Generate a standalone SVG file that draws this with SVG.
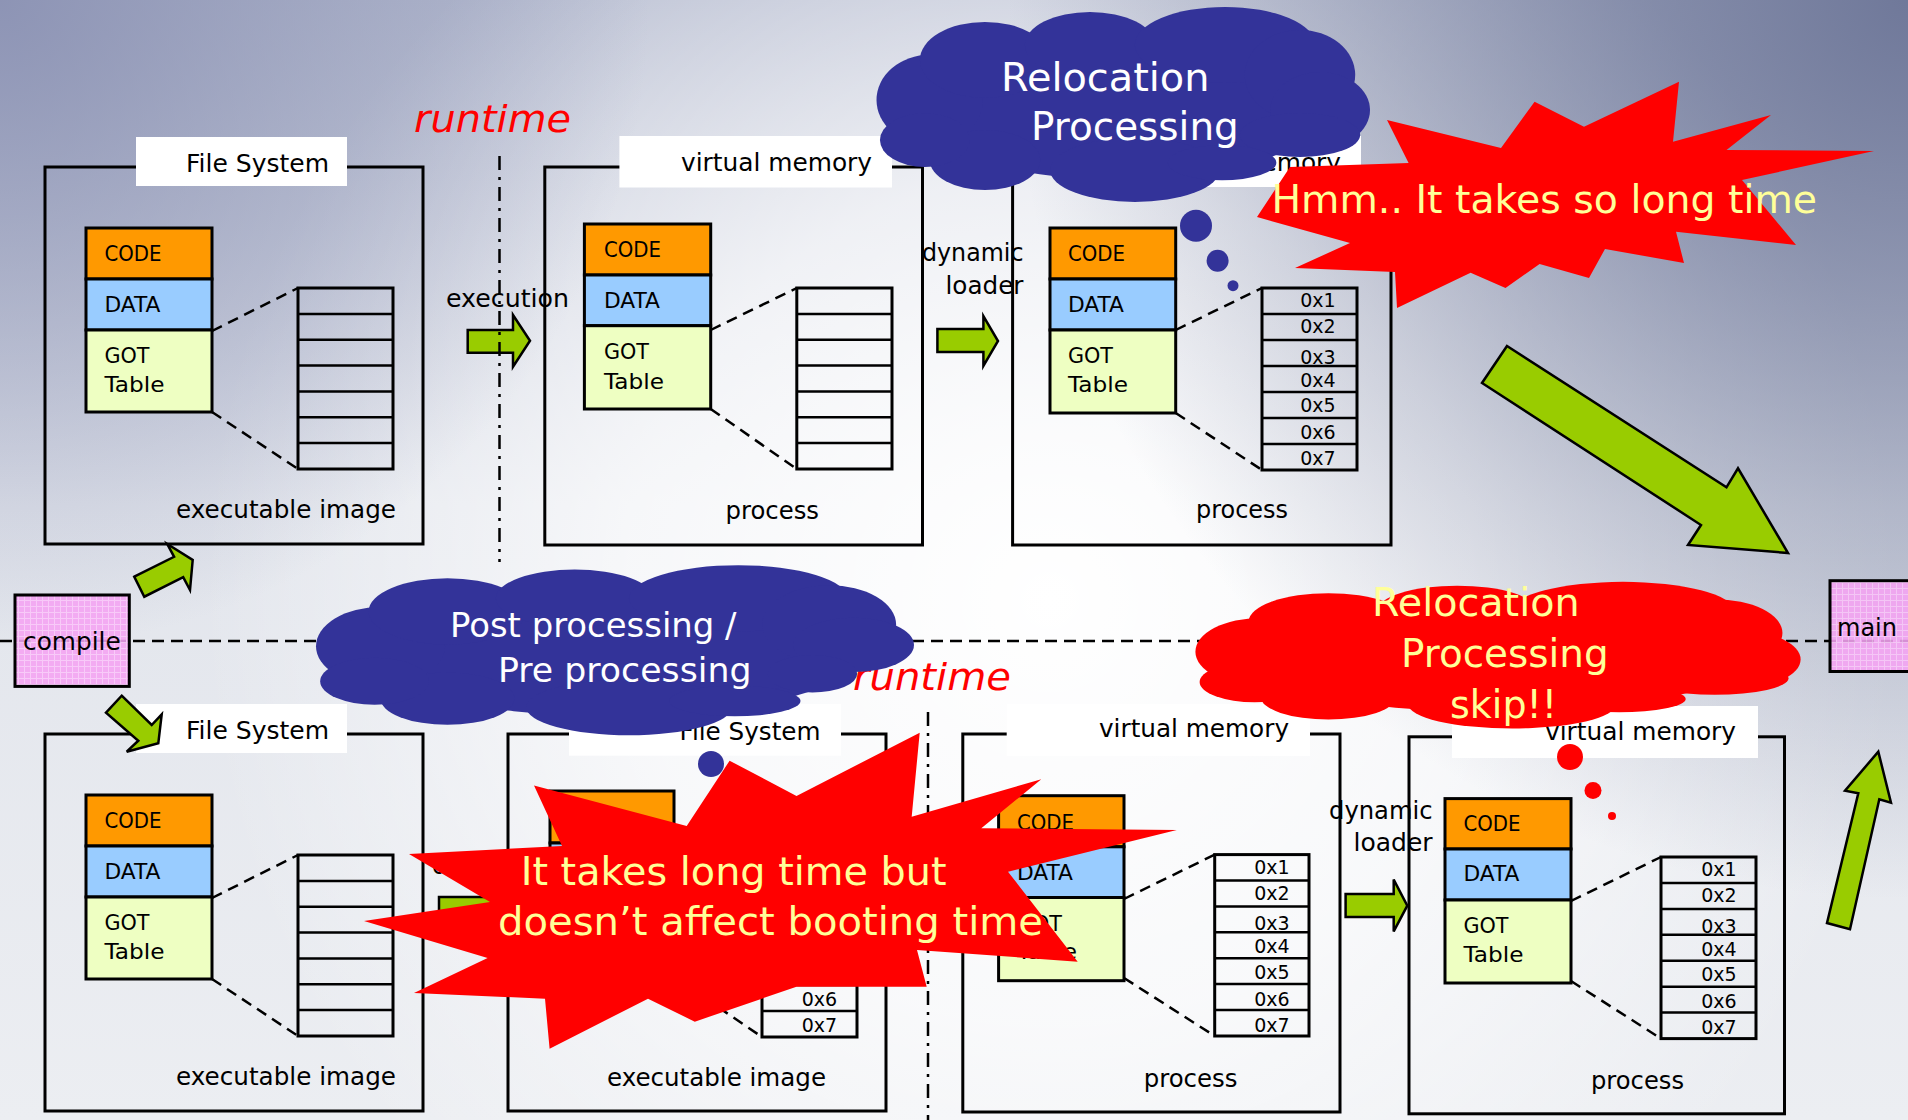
<svg xmlns="http://www.w3.org/2000/svg" xmlns:xlink="http://www.w3.org/1999/xlink" width="1908" height="1120" viewBox="0 0 1908 1120">
<defs>
<style>
.box{fill:none;stroke:#000;stroke-width:3}
.lab{fill:#fff}
.code{fill:#ff9900;stroke:#000;stroke-width:3}
.data{fill:#99ccff;stroke:#000;stroke-width:3}
.got{fill:#eeffc2;stroke:#000;stroke-width:3}
.tbl{fill:none;stroke:#000;stroke-width:3}
.rows{fill:none;stroke:#000;stroke-width:2.5}
.dash{fill:none;stroke:#000;stroke-width:2.5;stroke-dasharray:11 7}
.arrow{fill:#99cc00;stroke:#000;stroke-width:2.5}
.hline{fill:none;stroke:#000;stroke-width:2.5;stroke-dasharray:12 7}
.vline{fill:none;stroke:#000;stroke-width:2.5;stroke-dasharray:14 7 3 7}
.pink{fill:url(#pinkPat);fill-opacity:0.88;stroke:#000;stroke-width:3}
.t{font-family:"DejaVu Sans","Liberation Sans",sans-serif;fill:#000}
.lbl{font-size:25px}
.seg{font-size:22px}
.cap{font-size:24.5px}
.addr{font-size:19px;text-anchor:middle}
.rt{font-size:38px;font-style:italic;fill:#ff0000}
.cw{font-size:39px;fill:#fff}
.cy{font-size:39px;fill:#ffff99}
.bubB{fill:#333399}
.bubR{fill:#ff0000}
.star{fill:#ff0000}
</style>
<linearGradient id="bgLin" x1="0" y1="0" x2="0" y2="1">
<stop offset="0" stop-color="#b6bcd0"/>
<stop offset="0.45" stop-color="#e2e5ec"/>
<stop offset="1" stop-color="#eceef2"/>
</linearGradient>
<radialGradient id="bgGlow" gradientUnits="userSpaceOnUse" cx="1050" cy="600" r="850">
<stop offset="0" stop-color="#ffffff" stop-opacity="1"/>
<stop offset="0.5" stop-color="#ffffff" stop-opacity="0.7"/>
<stop offset="1" stop-color="#ffffff" stop-opacity="0"/>
</radialGradient>
<radialGradient id="bgTR" gradientUnits="userSpaceOnUse" cx="1908" cy="0" r="900">
<stop offset="0" stop-color="#6c7597" stop-opacity="0.95"/>
<stop offset="1" stop-color="#6c7597" stop-opacity="0"/>
</radialGradient>
<radialGradient id="bgTL" gradientUnits="userSpaceOnUse" cx="0" cy="0" r="650">
<stop offset="0" stop-color="#868db0" stop-opacity="0.85"/>
<stop offset="1" stop-color="#868db0" stop-opacity="0"/>
</radialGradient>
<pattern id="pinkPat" width="6" height="6" patternUnits="userSpaceOnUse">
<rect width="6" height="6" fill="#f5a3f3"/>
<path d="M0 0.5H6M0.5 0V6" stroke="#fbc6fa" stroke-width="1"/>
</pattern>
<g id="cloudCore">
<ellipse cx="493" cy="504" rx="426" ry="385"/>
<ellipse cx="107" cy="478" rx="108" ry="231"/>
<ellipse cx="219" cy="273" rx="132" ry="195"/>
<ellipse cx="432" cy="196" rx="132" ry="169"/>
<ellipse cx="706" cy="196" rx="183" ry="195"/>
<ellipse cx="858" cy="350" rx="112" ry="231"/>
<ellipse cx="523" cy="837" rx="172" ry="164"/>
<ellipse cx="219" cy="786" rx="112" ry="154"/>
<ellipse cx="97" cy="684" rx="91" ry="138"/>
</g>
<g id="cloud">
<use href="#cloudCore"/>
<ellipse cx="899" cy="530" rx="101" ry="195"/>
<ellipse cx="858" cy="658" rx="122" ry="113"/>
<ellipse cx="700" cy="800" rx="110" ry="90"/>
</g>
<g id="cloudB">
<use href="#cloudCore"/>
<ellipse cx="899" cy="470" rx="101" ry="160"/>
<ellipse cx="830" cy="640" rx="75" ry="110"/>
<ellipse cx="700" cy="800" rx="110" ry="90"/>
</g>
<g id="fsbox">
<rect class="box" x="45" y="167" width="378" height="377"/>
<rect class="lab" x="136" y="137" width="211" height="49"/>
<text class="t lbl" x="186" y="172">File System</text>
<rect class="code" x="86" y="228" width="126" height="51"/>
<rect class="data" x="86" y="279" width="126" height="51"/>
<rect class="got" x="86" y="330" width="126" height="82"/>
<text class="t seg" x="104.5" y="261" textLength="57" lengthAdjust="spacingAndGlyphs">CODE</text>
<text class="t seg" x="104.5" y="312" textLength="56" lengthAdjust="spacingAndGlyphs">DATA</text>
<text class="t seg" x="104.5" y="363" textLength="45" lengthAdjust="spacingAndGlyphs">GOT</text>
<text class="t seg" x="104.5" y="392" textLength="60" lengthAdjust="spacingAndGlyphs">Table</text>
<rect class="tbl" x="298" y="288" width="95" height="181"/>
<path class="rows" d="M298 313.9H393M298 339.7H393M298 365.6H393M298 391.4H393M298 417.3H393M298 443.1H393"/>
<path class="dash" d="M212 331L298 288M212 412L298 469"/>
<text class="t cap" x="176" y="518" textLength="220" lengthAdjust="spacingAndGlyphs">executable image</text>
</g>
</defs>

<g id="background">
<rect width="1908" height="1120" fill="url(#bgLin)"/>
<rect width="1908" height="1120" fill="url(#bgGlow)"/>
<rect width="1908" height="1120" fill="url(#bgTR)"/>
<rect width="1908" height="1120" fill="url(#bgTL)"/>
</g>

<g id="labels-runtime">
<text class="t rt" x="414" y="132" textLength="157" lengthAdjust="spacingAndGlyphs">runtime</text>
<text class="t rt" x="853" y="690" textLength="158" lengthAdjust="spacingAndGlyphs">runtime</text>
</g>

<g id="node-fs-top"><use href="#fsbox"/></g>

<g id="node-vm-top1">
<rect class="box" x="544.8" y="167" width="377.7" height="378"/>
<rect class="lab" x="619.4" y="136" width="272.6" height="51.5"/>
<text class="t lbl" x="681" y="171.4" textLength="191" lengthAdjust="spacingAndGlyphs">virtual memory</text>
<rect class="code" x="584.4" y="224" width="126.3" height="51"/>
<rect class="data" x="584.4" y="275" width="126.3" height="50.7"/>
<rect class="got" x="584.4" y="325.7" width="126.3" height="83.3"/>
<text class="t seg" x="604" y="257" textLength="57" lengthAdjust="spacingAndGlyphs">CODE</text>
<text class="t seg" x="604" y="308" textLength="56" lengthAdjust="spacingAndGlyphs">DATA</text>
<text class="t seg" x="604" y="359" textLength="45" lengthAdjust="spacingAndGlyphs">GOT</text>
<text class="t seg" x="604" y="388.6" textLength="60" lengthAdjust="spacingAndGlyphs">Table</text>
<rect class="tbl" x="796.8" y="288" width="95.2" height="181"/>
<path class="rows" d="M796.8 313.9H892M796.8 339.7H892M796.8 365.6H892M796.8 391.4H892M796.8 417.3H892M796.8 443.1H892"/>
<path class="dash" d="M710.7 330L796.8 288M710.7 409L796.8 469"/>
<text class="t cap" x="725.6" y="518.6" textLength="93.4" lengthAdjust="spacingAndGlyphs">process</text>
</g>

<g id="node-vm-top2">
<rect class="box" x="1012.6" y="167" width="378.4" height="378"/>
<rect class="lab" x="1088" y="136" width="273" height="51"/>
<text class="t lbl" x="1150" y="171" textLength="191" lengthAdjust="spacingAndGlyphs">virtual memory</text>
<rect class="code" x="1050" y="228" width="125.7" height="51"/>
<rect class="data" x="1050" y="279" width="125.7" height="51"/>
<rect class="got" x="1050" y="330" width="125.7" height="83"/>
<text class="t seg" x="1068" y="260.7" textLength="57" lengthAdjust="spacingAndGlyphs">CODE</text>
<text class="t seg" x="1068" y="312" textLength="56" lengthAdjust="spacingAndGlyphs">DATA</text>
<text class="t seg" x="1068" y="363" textLength="45" lengthAdjust="spacingAndGlyphs">GOT</text>
<text class="t seg" x="1068" y="392" textLength="60" lengthAdjust="spacingAndGlyphs">Table</text>
<rect class="tbl" x="1262" y="288" width="95" height="182"/>
<path class="rows" d="M1262 314H1357M1262 340H1357M1262 366H1357M1262 392H1357M1262 418H1357M1262 444H1357"/>
<text class="t addr" x="1318" y="307">0x1</text>
<text class="t addr" x="1318" y="333">0x2</text>
<text class="t addr" x="1318" y="363.5">0x3</text>
<text class="t addr" x="1318" y="386.5">0x4</text>
<text class="t addr" x="1318" y="412">0x5</text>
<text class="t addr" x="1318" y="439">0x6</text>
<text class="t addr" x="1318" y="465">0x7</text>
<path class="dash" d="M1175.7 330L1262 288M1175.7 413L1262 470"/>
<text class="t cap" x="1196" y="518" textLength="92" lengthAdjust="spacingAndGlyphs">process</text>
</g>

<g id="node-fs-bottom1" transform="translate(0 567)"><use href="#fsbox"/></g>

<g id="node-fs-bottom2">
<rect class="box" x="508" y="734" width="378" height="377"/>
<rect class="lab" x="569" y="704" width="272" height="51.7"/>
<text class="t lbl" x="679.5" y="740" textLength="141" lengthAdjust="spacingAndGlyphs">File System</text>
<rect class="code" x="550" y="791" width="124" height="52"/>
<rect class="data" x="550" y="843" width="124" height="51"/>
<rect class="got" x="550" y="894" width="124" height="83"/>
<rect class="tbl" x="762" y="855" width="95" height="182"/>
<path class="rows" d="M762 881H857M762 907H857M762 933H857M762 959H857M762 985H857M762 1011H857"/>
<text class="t addr" x="819.5" y="979">0x5</text>
<text class="t addr" x="819.5" y="1006">0x6</text>
<text class="t addr" x="819.5" y="1032">0x7</text>
<path class="dash" d="M674 894L762 855M674 977L762 1037"/>
<text class="t cap" x="607" y="1086" textLength="219" lengthAdjust="spacingAndGlyphs">executable image</text>
</g>

<g id="node-vm-bottom1">
<rect class="box" x="962.8" y="734" width="377.2" height="378"/>
<rect class="lab" x="1006.7" y="704" width="303.3" height="52"/>
<text class="t lbl" x="1099" y="737" textLength="190" lengthAdjust="spacingAndGlyphs">virtual memory</text>
<rect class="code" x="998.6" y="795.7" width="125.4" height="51.1"/>
<rect class="data" x="998.6" y="846.8" width="125.4" height="50.7"/>
<rect class="got" x="998.6" y="897.5" width="125.4" height="83.2"/>
<text class="t seg" x="1017" y="829.6" textLength="57" lengthAdjust="spacingAndGlyphs">CODE</text>
<text class="t seg" x="1017" y="879.6" textLength="56" lengthAdjust="spacingAndGlyphs">DATA</text>
<text class="t seg" x="1017" y="930.7" textLength="45" lengthAdjust="spacingAndGlyphs">GOT</text>
<text class="t seg" x="1017" y="959" textLength="60" lengthAdjust="spacingAndGlyphs">Table</text>
<rect class="tbl" x="1214.7" y="854.6" width="94.3" height="181.4"/>
<path class="rows" d="M1214.7 880.5H1309M1214.7 906.4H1309M1214.7 932.3H1309M1214.7 958.2H1309M1214.7 984.1H1309M1214.7 1010.1H1309"/>
<text class="t addr" x="1272" y="873.6">0x1</text>
<text class="t addr" x="1272" y="899.6">0x2</text>
<text class="t addr" x="1272" y="930.1">0x3</text>
<text class="t addr" x="1272" y="953.1">0x4</text>
<text class="t addr" x="1272" y="978.6">0x5</text>
<text class="t addr" x="1272" y="1005.6">0x6</text>
<text class="t addr" x="1272" y="1031.6">0x7</text>
<path class="dash" d="M1124 899L1214.7 854.6M1124 978L1214.7 1036"/>
<text class="t cap" x="1143.7" y="1087" textLength="93.8" lengthAdjust="spacingAndGlyphs">process</text>
</g>

<g id="node-vm-bottom2">
<rect class="box" x="1409" y="736.8" width="375.5" height="377"/>
<rect class="lab" x="1452" y="706" width="306" height="52"/>
<text class="t lbl" x="1545" y="740" textLength="191" lengthAdjust="spacingAndGlyphs">virtual memory</text>
<rect class="code" x="1445" y="798.6" width="126" height="50.4"/>
<rect class="data" x="1445" y="849" width="126" height="51"/>
<rect class="got" x="1445" y="900" width="126" height="83"/>
<text class="t seg" x="1463.5" y="831" textLength="57" lengthAdjust="spacingAndGlyphs">CODE</text>
<text class="t seg" x="1463.5" y="881.4" textLength="56" lengthAdjust="spacingAndGlyphs">DATA</text>
<text class="t seg" x="1463.5" y="933" textLength="45" lengthAdjust="spacingAndGlyphs">GOT</text>
<text class="t seg" x="1463.5" y="961.8" textLength="60" lengthAdjust="spacingAndGlyphs">Table</text>
<rect class="tbl" x="1661" y="857" width="95" height="181.6"/>
<path class="rows" d="M1661 882.9H1756M1661 908.9H1756M1661 934.8H1756M1661 960.8H1756M1661 986.7H1756M1661 1012.6H1756"/>
<text class="t addr" x="1719" y="876">0x1</text>
<text class="t addr" x="1719" y="902">0x2</text>
<text class="t addr" x="1719" y="932.5">0x3</text>
<text class="t addr" x="1719" y="955.5">0x4</text>
<text class="t addr" x="1719" y="981">0x5</text>
<text class="t addr" x="1719" y="1008">0x6</text>
<text class="t addr" x="1719" y="1034">0x7</text>
<path class="dash" d="M1571 901L1661 857M1571 981L1661 1038.6"/>
<text class="t cap" x="1591" y="1088.6" textLength="93" lengthAdjust="spacingAndGlyphs">process</text>
</g>

<g id="connectors">
<line class="hline" x1="0" y1="641" x2="1908" y2="641"/>
<text class="t cap" x="446" y="307" textLength="123" lengthAdjust="spacingAndGlyphs">execution</text>
<polygon class="arrow" points="467.7,330 513,330 513,315 530,340.7 513,366.7 513,352.7 467.7,352.7"/>
<line class="vline" x1="499.5" y1="156" x2="499.5" y2="562"/>
<text class="t cap" x="922" y="261" textLength="101.5" lengthAdjust="spacingAndGlyphs">dynamic</text>
<text class="t cap" x="945.5" y="293.6" textLength="78" lengthAdjust="spacingAndGlyphs">loader</text>
<polygon class="arrow" points="937.4,329 983.4,329 983.4,316 998,341 983.4,366 983.4,352 937.4,352"/>
<polygon class="arrow" points="1507,346 1726.5,487.3 1738,468.3 1788,553 1688,545 1701,525 1482,383"/>
<polygon class="arrow" points="134.3,576.7 174.1,556.8 167.3,544 192.7,560 190,590 183.2,577.2 144.3,596.7"/>
<polygon class="arrow" points="121.7,695.7 151.7,725 161.7,714.3 158.3,743.3 126.7,751.7 138.3,740.7 106,712.7"/>
<text class="t cap" x="432" y="874">d</text>
<polygon class="arrow" points="439,897 486,897 486,882 503,908.5 486,935 486,920 439,920"/>
<line class="vline" x1="928" y1="712" x2="928" y2="1120"/>
<text class="t cap" x="1329" y="819" textLength="103.6" lengthAdjust="spacingAndGlyphs">dynamic</text>
<text class="t cap" x="1353.6" y="851" textLength="79" lengthAdjust="spacingAndGlyphs">loader</text>
<polygon class="arrow" points="1345.6,894 1393.7,894 1393.7,879.6 1407.3,905.7 1393.7,931.4 1393.7,917 1345.6,917"/>
<polygon class="arrow" points="1827,923 1858.3,793.3 1845,790.7 1878.3,751.7 1891,802.7 1879.3,799.3 1850,929.3"/>
</g>

<g id="node-compile">
<rect class="pink" x="15" y="595" width="114.3" height="91.4"/>
<text class="t lbl" x="23" y="650" textLength="97.7" lengthAdjust="spacingAndGlyphs">compile</text>
</g>

<g id="node-main">
<rect class="pink" x="1830" y="580.7" width="84" height="90.8"/>
<text class="t lbl" x="1837" y="636" textLength="60" lengthAdjust="spacingAndGlyphs">main</text>
</g>

<g id="callout-relocation">
<use href="#cloud" fill="#333399" transform="translate(877 6.7) scale(0.493 0.195)"/>
<text class="t cw" x="1001" y="90.7" textLength="208.5" lengthAdjust="spacingAndGlyphs">Relocation</text>
<text class="t cw" x="1031" y="140" textLength="207.8" lengthAdjust="spacingAndGlyphs">Processing</text>
<circle class="bubB" cx="1196" cy="225.7" r="16"/>
<circle class="bubB" cx="1217.6" cy="260.7" r="11"/>
<circle class="bubB" cx="1233" cy="285.7" r="5.5"/>
</g>

<g id="callout-hmm">
<polygon class="star" points="1387,120 1501,148 1534.6,101.7 1584,126.7 1679,81.7 1673,141.7 1771,115 1726.5,150 1874,151 1742,180 1796,245 1676,231.7 1684,263 1605,249 1589,278 1539.6,264 1505.5,288 1470.6,272.7 1397,308 1395,272 1295,268 1350,243 1257,217 1290,167 1408.6,163"/>
<text class="t cy" x="1271.5" y="213" textLength="545.5" lengthAdjust="spacingAndGlyphs">Hmm.. It takes so long time</text>
</g>

<g id="callout-post">
<use href="#cloudB" fill="#333399" transform="translate(316.6 565) scale(0.5974 0.170)"/>
<text class="t cw" style="font-size:34px" x="450" y="637.3" textLength="286.5" lengthAdjust="spacingAndGlyphs">Post processing /</text>
<text class="t cw" style="font-size:34px" x="498" y="681.7" textLength="253.5" lengthAdjust="spacingAndGlyphs">Pre processing</text>
<circle class="bubB" cx="711" cy="764" r="13"/>
</g>

<g id="callout-longtime">
<polygon class="star" points="534,785.5 686.7,826 729.6,760.7 796.5,796 919.7,732.7 911.7,816.7 1041.3,779.3 981.3,828.3 1176.8,830 1008,871.7 1077.7,961.7 917,950 926.7,986.7 796.5,986.7 694.8,1021.7 648,998.7 549.6,1048.7 545,998.7 414,993 487.6,958 364,921 490,902 409,854 562,846"/>
<text class="t cy" x="520.7" y="885" textLength="425.8" lengthAdjust="spacingAndGlyphs">It takes long time but</text>
<text class="t cy" x="498" y="935" textLength="545" lengthAdjust="spacingAndGlyphs">doesn’t affect booting time</text>
</g>

<g id="callout-skip">
<use href="#cloud" fill="#ff0000" transform="translate(1196 581.7) scale(0.6046 0.1466)"/>
<text class="t cy" x="1372" y="616" textLength="207.6" lengthAdjust="spacingAndGlyphs">Relocation</text>
<text class="t cy" x="1401" y="666.7" textLength="207.7" lengthAdjust="spacingAndGlyphs">Processing</text>
<text class="t cy" x="1450" y="718" textLength="107" lengthAdjust="spacingAndGlyphs">skip!!</text>
<circle class="bubR" cx="1570" cy="757" r="13"/>
<circle class="bubR" cx="1593" cy="790.5" r="8.5"/>
<circle class="bubR" cx="1612" cy="816" r="4"/>
</g>
</svg>
